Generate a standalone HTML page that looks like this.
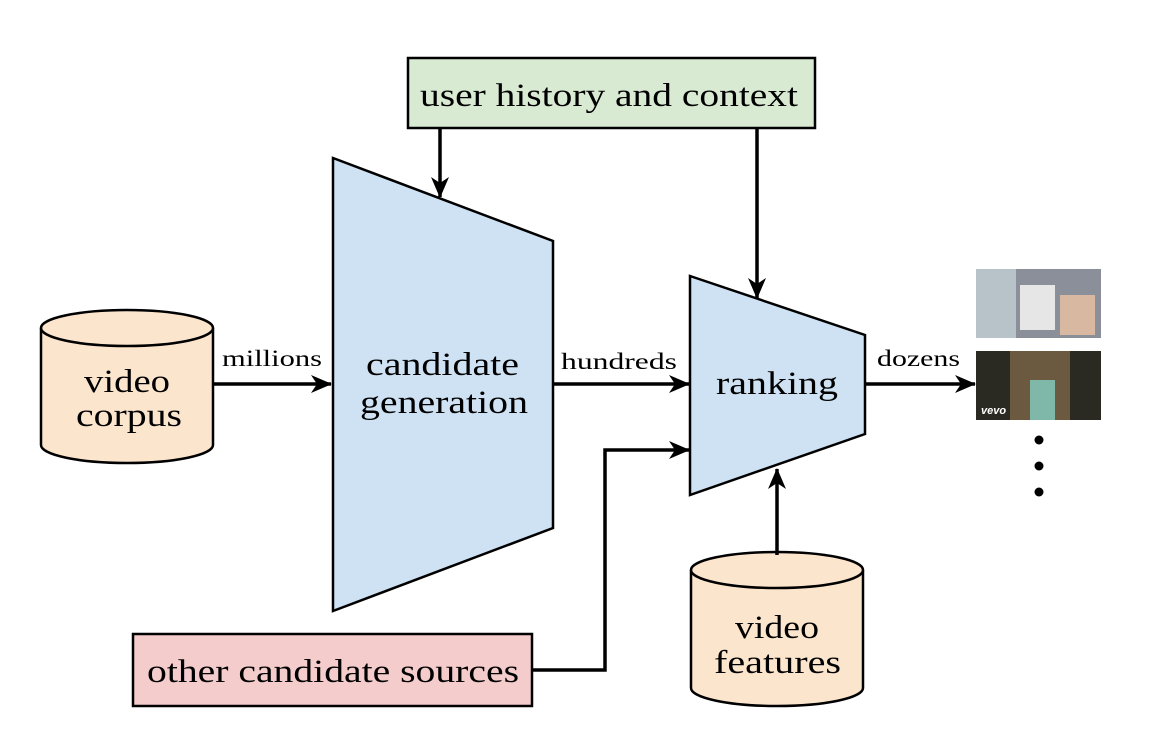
<!DOCTYPE html>
<html><head><meta charset="utf-8"><style>body{margin:0;background:#fff}</style></head><body>
<svg width="1168" height="746" viewBox="0 0 1168 746" xmlns="http://www.w3.org/2000/svg" font-family="'Liberation Serif', serif">
<defs>
<marker id="b" markerWidth="22" markerHeight="22" refX="20" refY="11" orient="auto" markerUnits="userSpaceOnUse">
<path d="M0,2 L21,11 L0,20 L6,11 z" fill="#000"/></marker>
</defs>
<rect x="408" y="58" width="407" height="70" fill="#d9ead3" stroke="#000" stroke-width="2.5"/>
<text x="420" y="106" font-size="33" textLength="378" lengthAdjust="spacingAndGlyphs">user history and context</text>
<polygon points="333,158 553,241 553,528 333,611" fill="#cfe2f3" stroke="#000" stroke-width="2.5"/>
<text x="366" y="375" font-size="33" textLength="153" lengthAdjust="spacingAndGlyphs">candidate</text>
<text x="360" y="413" font-size="33" textLength="168" lengthAdjust="spacingAndGlyphs">generation</text>
<polygon points="690,276 865,335 865,434 690,495" fill="#cfe2f3" stroke="#000" stroke-width="2.5"/>
<text x="716" y="394" font-size="33" textLength="122" lengthAdjust="spacingAndGlyphs">ranking</text>
<path d="M41,328 L41,445 A86,18 0 0 0 213,445 L213,328" fill="#fce5cd" stroke="#000" stroke-width="2.5"/>
<ellipse cx="127" cy="328" rx="86" ry="18" fill="#fce5cd" stroke="#000" stroke-width="2.5"/>
<text x="84" y="392" font-size="33" textLength="86" lengthAdjust="spacingAndGlyphs">video</text>
<text x="76" y="426" font-size="33" textLength="106" lengthAdjust="spacingAndGlyphs">corpus</text>
<path d="M691,570 L691,688 A86,18 0 0 0 863,688 L863,570" fill="#fce5cd" stroke="#000" stroke-width="2.5"/>
<ellipse cx="777" cy="570" rx="86" ry="18" fill="#fce5cd" stroke="#000" stroke-width="2.5"/>
<text x="735" y="638" font-size="33" textLength="84" lengthAdjust="spacingAndGlyphs">video</text>
<text x="714" y="673" font-size="33" textLength="127" lengthAdjust="spacingAndGlyphs">features</text>
<rect x="133" y="634" width="399" height="72" fill="#f4cccc" stroke="#000" stroke-width="2.5"/>
<text x="147" y="682" font-size="33" textLength="372" lengthAdjust="spacingAndGlyphs">other candidate sources</text>
<g stroke="#000" stroke-width="3.5" fill="none" marker-end="url(#b)">
<line x1="214" y1="384" x2="331" y2="384"/>
<line x1="553" y1="384" x2="689" y2="384"/>
<line x1="865" y1="384" x2="975" y2="384"/>
<line x1="440" y1="128" x2="440" y2="197"/>
<line x1="757" y1="128" x2="757" y2="298"/>
<polyline points="532,670 605,670 605,450 689,450"/>
<line x1="777" y1="555" x2="777" y2="469"/>
</g>
<text x="222" y="366" font-size="23" textLength="100" lengthAdjust="spacingAndGlyphs">millions</text>
<text x="561" y="369" font-size="23" textLength="116" lengthAdjust="spacingAndGlyphs">hundreds</text>
<text x="877" y="366" font-size="23" textLength="83" lengthAdjust="spacingAndGlyphs">dozens</text>
<rect x="976" y="269" width="125" height="69" fill="#8a8f99"/>
<rect x="976" y="269" width="40" height="69" fill="#b7c3c9"/>
<rect x="1020" y="285" width="35" height="45" fill="#e6e6e6"/>
<rect x="1060" y="295" width="35" height="40" fill="#d8b8a0"/>
<rect x="976" y="351" width="125" height="69" fill="#2a2a22"/>
<rect x="1010" y="351" width="60" height="69" fill="#6b5a40"/>
<rect x="1030" y="380" width="25" height="40" fill="#7fb8a8"/>
<text x="981" y="414" font-size="11" fill="#fff" font-family="'Liberation Sans',sans-serif" font-weight="bold" font-style="italic">vevo</text>
<circle cx="1039" cy="440" r="4.5" fill="#000"/>
<circle cx="1039" cy="466" r="4.5" fill="#000"/>
<circle cx="1039" cy="492" r="4.5" fill="#000"/>
</svg>
</body></html>
